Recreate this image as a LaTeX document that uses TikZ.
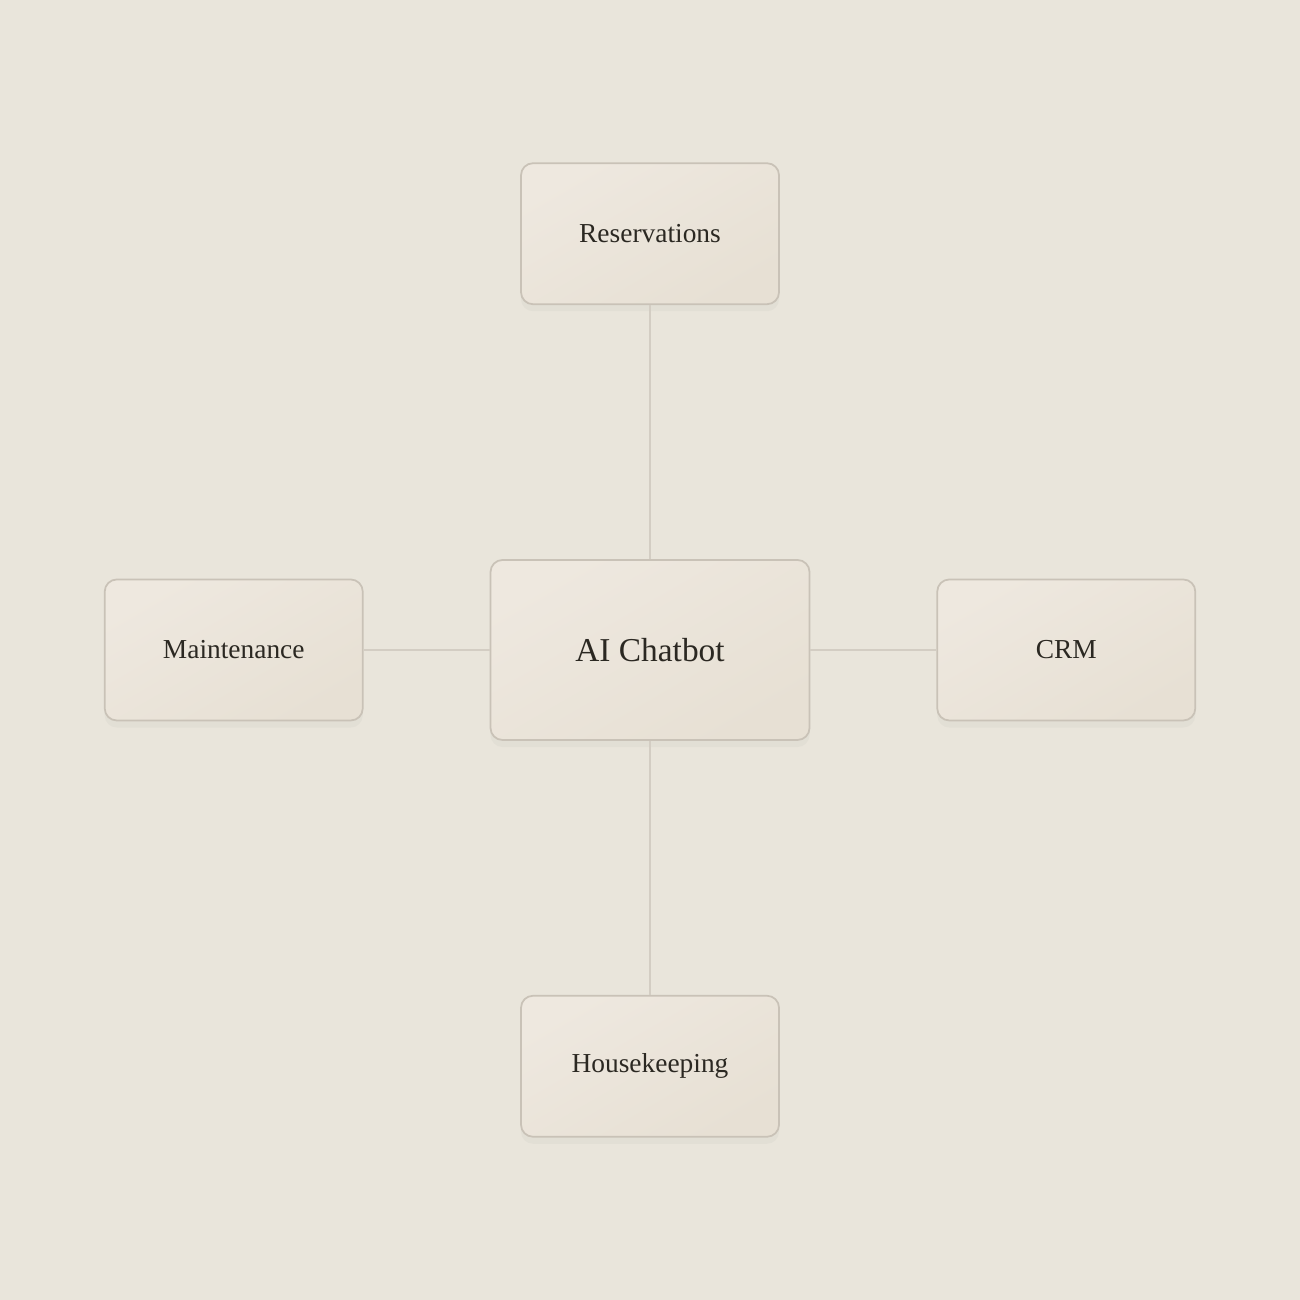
\documentclass[tikz,border=0pt]{standalone}
\usepackage{fontspec}
\setmainfont{Liberation Serif}
\usepackage{tikz}
\usepackage{xcolor}
\usetikzlibrary{positioning,shadows}
\definecolor{bgcol}{HTML}{E9E5DB}
\definecolor{boxtop}{HTML}{EEE8DF}
\definecolor{boxbot}{HTML}{E7E0D4}
\definecolor{boxline}{HTML}{C9C2B7}
\definecolor{linkcol}{HTML}{D3CDC3}
\definecolor{inkcol}{HTML}{2B2822}

\begin{document}
\begin{tikzpicture}[
    sysbox/.style={rectangle, rounded corners=0.12cm, draw=boxline, line width=0.5pt,
        top color=boxtop, bottom color=boxbot, shading angle=30,
        drop shadow={opacity=0.06, shadow xshift=0pt, shadow yshift=-2pt},
        minimum width=2.58cm, minimum height=1.41cm, text=inkcol, font=\fontsize{7.8}{9}\selectfont},
    hubbox/.style={sysbox, minimum width=3.19cm, minimum height=1.80cm, font=\fontsize{9.5}{11}\selectfont},
    link/.style={draw=linkcol, line width=0.5pt}
]
    % Background
    \fill[bgcol] (0,0) rectangle (13,13);

    % Hub
    \node[hubbox] (chat) at (6.5,6.5) {AI Chatbot};

    % Systems
    \node[sysbox, above=2.54cm of chat] (res) {Reservations};
    \node[sysbox, below=2.54cm of chat] (house) {Housekeeping};
    \node[sysbox, left=1.26cm of chat] (maint) {Maintenance};
    \node[sysbox, right=1.26cm of chat] (crm) {CRM};

    % Links
    \draw[link] (chat) -- (res);
    \draw[link] (chat) -- (house);
    \draw[link] (chat) -- (maint);
    \draw[link] (chat) -- (crm);
\end{tikzpicture}
\end{document}
